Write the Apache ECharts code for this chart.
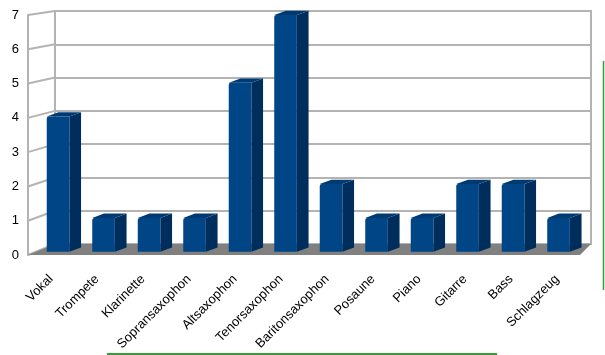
<!DOCTYPE html>
<html><head><meta charset="utf-8">
<script src="https://cdn.jsdelivr.net/npm/echarts@6/dist/echarts.min.js"></script>
<style>html,body{margin:0;padding:0;background:#fff}#c{width:605px;height:355px}</style>
</head><body><div id="c"></div>
<script>
const categories = ["Vokal","Trompete","Klarinette","Sopransaxophon","Altsaxophon","Tenorsaxophon","Baritonsaxophon","Posaune","Piano","Gitarre","Bass","Schlagzeug"];
const values = [4,1,1,1,5,7,2,1,1,2,2,1];
const yTicks = [0,1,2,3,4,5,6,7];

const FONT = "'Liberation Sans', Arial, sans-serif";
const GRAY = '#b3b3b3';
const back = {left:55, right:14, top:11, bottom:111};
const front = {left:28, right:25, top:15, bottom:100};
const bars = {left:35.3, right:23.7, top:15.1, bottom:103.3};
const DX = 11.7, DY = -4.3;

const chart = echarts.init(document.getElementById('c'), null, {renderer:'canvas'});

function bar3d(params, api){
  const c = api.coord([api.value(0), api.value(1)]);
  const b = api.coord([api.value(0), 0]);
  const bw = api.size([1,0])[0]*0.497;
  const l = c[0]-bw/2, r = c[0]+bw/2, t = c[1], bt = b[1];
  return {type:'group', children:[
    {type:'polygon', shape:{points:[[r,t],[r+DX,t+DY],[r+DX,bt+DY],[r,bt]]}, style:{fill:'#002e5c'}},
    {type:'polygon', shape:{points:[[l,t],[l+DX,t+DY],[r+DX,t+DY],[r,t]]}, style:{fill:'#003a73'}},
    {type:'rect', shape:{x:l, y:t, width:bw, height:bt-t, r:[2,0,0,0]}, style:{fill:'#004586'}}
  ]};
}

const option = {
  animation:false,
  grid:[
    Object.assign({show:true, borderColor:GRAY, borderWidth:2, backgroundColor:'transparent'}, back),
    front, bars
  ],
  xAxis:[
    {gridIndex:0, type:'category', data:categories, show:false},
    {gridIndex:1, type:'category', data:categories, axisLine:{show:false}, axisTick:{show:false},
     axisLabel:{interval:0, rotate:45, margin:22, fontSize:13, color:'#000', fontFamily:FONT}},
    {gridIndex:2, type:'category', data:categories, show:false}
  ],
  yAxis:[
    {gridIndex:0, type:'value', min:0, max:7, interval:1, axisLabel:{show:false}, axisLine:{show:false}, axisTick:{show:false},
     splitLine:{show:true, lineStyle:{color:GRAY, width:2}}},
    {gridIndex:1, type:'value', min:0, max:7, interval:1, splitLine:{show:false}, axisTick:{show:false},
     axisLine:{show:true, lineStyle:{color:GRAY, width:2}},
     axisLabel:{margin:9, fontSize:13, color:'#000', fontFamily:FONT, verticalAlign:'middle', padding:[6,0,0,0]}},
    {gridIndex:2, type:'value', min:0, max:7, interval:1, show:false}
  ],
  series:[
    {type:'custom', xAxisIndex:2, yAxisIndex:2, z:10,
     data: values.map((v,i)=>[i,v]), renderItem: bar3d}
  ]
};
chart.setOption(option);

// decorations: side wall lines, floor, framing lines
const W = 605, H = 355;
const g = [];
yTicks.forEach(v=>{
  const yf = chart.convertToPixel({yAxisIndex:1}, v);
  const yb = chart.convertToPixel({yAxisIndex:0}, v);
  g.push({type:'line', z:2, shape:{x1:front.left, y1:yf, x2:back.left, y2:yb}, style:{stroke:GRAY, lineWidth:2}});
});
const yf0 = chart.convertToPixel({yAxisIndex:1}, 0);
const yb0 = chart.convertToPixel({yAxisIndex:0}, 0);
g.push({type:'polygon', z:3, shape:{points:[[front.left, yf0],[W-front.right, yf0],[W-back.right, yb0],[back.left, yb0]]}, style:{fill:'#808080'}});
g.push({type:'line', z:3, shape:{x1:603.5, y1:61, x2:603.5, y2:290}, style:{stroke:'#3a993a', lineWidth:1.5}});
g.push({type:'line', z:3, shape:{x1:107, y1:354, x2:497, y2:354}, style:{stroke:'#3a993a', lineWidth:2}});
chart.setOption({graphic:{elements:g}});
</script>
</body></html>
